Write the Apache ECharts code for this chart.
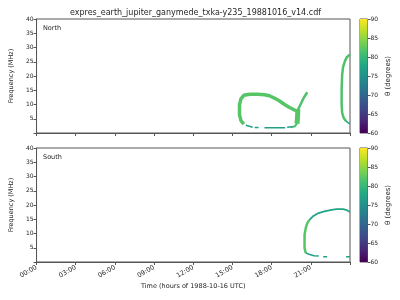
<!DOCTYPE html>
<html>
<head>
<meta charset="utf-8">
<script src="https://cdn.jsdelivr.net/npm/echarts@6/dist/echarts.min.js"></script>
<style>html,body{margin:0;padding:0;background:#fff}#c{width:400px;height:300px}</style>
</head>
<body>
<div id="c"></div>
<script>
// ---- data (time in hours of 1988-10-16, frequency in MHz, theta in degrees) ----
const titleText = 'expres_earth_jupiter_ganymede_txka-y235_19881016_v14.cdf';
const xTicks = [0, 3, 6, 9, 12, 15, 18, 21];
const yTicks = [5, 10, 15, 20, 25, 30, 35, 40];
const cbarTicks = [60, 65, 70, 75, 80, 85, 90];

// North hemisphere
const northLoop = [[15.87,3.08],[15.65,4.31],[15.54,6.41],[15.54,9.91],[15.65,12.0],[15.87,13.23],[16.33,13.58],[16.93,13.58],[17.45,13.41],[17.83,13.06],[18.21,12.25],[18.58,11.31],[18.96,10.08],[19.34,9.03],[19.64,8.33],[19.86,7.81]];
const northLoopTheta = 82;
const northLobe = [[20.01,8.4],[19.98,5.35],[19.94,3.25]];
const northLobeTheta = 82;
const northBranch = [[20.01,8.16],[20.24,10.26],[20.46,12.36],[20.73,14.28]];
const northBranchTheta = 81.5;
const northCorner = [[19.94,3.25],[19.79,2.38],[19.49,2.03]];
const northCornerTheta = 81;
const northBottom1 = [[16.03,2.73],[16.55,2.03]];
const northBottom2 = [[16.70,1.93],[17.0,1.93]];
const northBottom3 = [[17.45,1.86],[19.04,1.86]];
const northBottom4 = [[19.19,2.03],[19.56,2.2]];
const northBottomTheta = 77;
const northRight = [[24.0,27.51],[23.77,26.7],[23.62,25.3],[23.47,23.2],[23.4,20.4],[23.36,15.16],[23.36,9.9],[23.4,7.1],[23.51,5.36],[23.7,4.13]];
const northRightTheta = 81.5;
const northRightTail = [[23.7,4.13],[23.89,3.5],[24.0,3.26]];
const northRightTailTheta = 77.5;

// South hemisphere
const southLeft = [[20.61,3.15],[20.52,4.9],[20.52,9.45],[20.61,11.9],[20.73,13.65],[20.88,14.7]];
const southLeftTheta = 82;
const southTop = [[20.88,14.7],[21.14,15.93],[21.52,17.05],[21.97,17.68],[22.49,18.2],[22.95,18.55],[23.47,18.55],[23.77,18.2],[24.0,17.5]];
const southTopTheta = 77.5;
const southBottom1 = [[20.61,3.26],[20.86,2.7],[21.24,2.2],[21.61,2.1]];
const southBottom2 = [[21.95,1.86],[22.25,1.86]];
const southBottom3 = [[23.7,1.86],[24.0,1.86]];
const southBottomTheta = 77;

// ---- styling helpers ----
const viridis = ['#440154','#482475','#414487','#355f8d','#2a788e','#21918c','#22a884','#44bf70','#7ad151','#bddf26','#fde725'];
function hex2rgb(h){return [parseInt(h.slice(1,3),16),parseInt(h.slice(3,5),16),parseInt(h.slice(5,7),16)];}
function thetaColor(t){
  let u = (t-60)/30; u = Math.max(0, Math.min(1, u));
  const p = u*10, i = Math.min(9, Math.floor(p)), f = p - i;
  const a = hex2rgb(viridis[i]), b = hex2rgb(viridis[i+1]);
  const c = a.map((v,k)=>Math.round(v+(b[k]-v)*f));
  return 'rgb('+c.join(',')+')';
}
const FONT = 'DejaVu Sans';
const TXT = '#262626';
const SPINE = '#555';

function seg(data, theta, grid, width){
  return {
    type:'line', xAxisIndex:grid, yAxisIndex:grid, data:data,
    showSymbol:false, symbol:'none', silent:true, animation:false,
    lineStyle:{color:thetaColor(theta), width:width, cap:'butt', join:'round'},
    clip:true
  };
}

const hourFmt = v => (v>=24 ? '' : (v<10?'0':'')+v+':00');
const freqFmt = v => (v===0 ? '' : String(v));

function mainX(grid, showLabels){
  return {
    type:'value', gridIndex:grid, min:0, max:24, interval:3,
    axisLine:{show:true, lineStyle:{color:SPINE, width:1}},
    axisTick:{show:true, length:3, lineStyle:{color:SPINE}},
    splitLine:{show:false},
    axisLabel:{show:showLabels, formatter:hourFmt, rotate:30, fontSize:6.5, fontFamily:FONT, color:TXT, margin:5},
    name: showLabels ? 'Time (hours of 1988-10-16 UTC)' : '',
    nameLocation:'middle', nameGap:21,
    nameTextStyle:{fontSize:6.5, fontFamily:FONT, color:TXT}
  };
}
function mainY(grid){
  return {
    type:'value', gridIndex:grid, min:0, max:40, interval:5,
    axisLine:{show:true, lineStyle:{color:SPINE, width:1}},
    axisTick:{show:true, length:3, lineStyle:{color:SPINE}},
    splitLine:{show:false},
    axisLabel:{formatter:freqFmt, fontSize:6, fontFamily:FONT, color:TXT, margin:3},
    name:'Frequency (MHz)', nameLocation:'middle', nameGap:18,
    nameTextStyle:{fontSize:6.5, fontFamily:FONT, color:TXT}
  };
}
function cbarX(grid){
  return {type:'category', gridIndex:grid, data:['c'], show:false, boundaryGap:true};
}
function cbarY(grid){
  return {
    type:'value', gridIndex:grid, min:60, max:90, interval:5, position:'right',
    axisLine:{show:false}, splitLine:{show:false},
    axisTick:{show:true, length:3, inside:false, lineStyle:{color:SPINE}},
    axisLabel:{fontSize:6, fontFamily:FONT, color:TXT, margin:3},
    name:'θ (degrees)', nameLocation:'middle', nameGap:17, nameRotate:90,
    nameTextStyle:{fontSize:7, fontFamily:FONT, color:TXT, verticalAlign:'top'}
  };
}
const gradStops = viridis.map((c,i)=>({offset:i/10, color:c}));
function cbarSeries(grid){
  return {
    type:'bar', xAxisIndex:grid, yAxisIndex:grid, data:[cbarTicks[cbarTicks.length-1]],
    barWidth:'100%', silent:true, animation:false,
    itemStyle:{color:new echarts.graphic.LinearGradient(0,1,0,0,gradStops)}
  };
}

const gridBox = {show:true, borderColor:SPINE, borderWidth:1, backgroundColor:'transparent', containLabel:false};

const option = {
  animation:false,
  backgroundColor:'#fff',
  title:{text:titleText, left:190.5, textAlign:'center', top:4, textStyle:{fontSize:8, fontWeight:'normal', fontFamily:FONT, color:TXT}},
  grid:[
    Object.assign({left:31, top:19, width:319, height:114}, gridBox),
    Object.assign({left:31, top:148, width:319, height:114}, gridBox),
    Object.assign({left:360, top:19, width:7.5, height:114}, gridBox),
    Object.assign({left:360, top:148, width:7.5, height:114}, gridBox)
  ],
  xAxis:[mainX(0,false), mainX(1,true), cbarX(2), cbarX(3)],
  yAxis:[mainY(0), mainY(1), cbarY(2), cbarY(3)],
  graphic:[
    {type:'text', left:43, top:25, style:{text:'North', fontSize:6.5, fontFamily:FONT, fill:TXT}},
    {type:'text', left:43, top:154, style:{text:'South', fontSize:6.5, fontFamily:FONT, fill:TXT}}
  ],
  series:[
    cbarSeries(2), cbarSeries(3),
    seg(northLoop, northLoopTheta, 0, 3.5),
    seg(northLobe, northLobeTheta, 0, 5),
    seg(northBranch, northBranchTheta, 0, 2.5),
    seg(northCorner, northCornerTheta, 0, 2),
    seg(northBottom1, northBottomTheta, 0, 1.5),
    seg(northBottom2, northBottomTheta, 0, 1.5),
    seg(northBottom3, northBottomTheta, 0, 1.5),
    seg(northBottom4, northBottomTheta, 0, 1.5),
    seg(northRight, northRightTheta, 0, 2.5),
    seg(northRightTail, northRightTailTheta, 0, 1.5),
    seg(southLeft, southLeftTheta, 1, 2.5),
    seg(southTop, southTopTheta, 1, 1.8),
    seg(southBottom1, southBottomTheta, 1, 1.5),
    seg(southBottom2, southBottomTheta, 1, 1.5),
    seg(southBottom3, southBottomTheta, 1, 1.5)
  ]
};
const chart = echarts.init(document.getElementById('c'), null, {renderer:'canvas'});
chart.setOption(option);
</script>
</body>
</html>
